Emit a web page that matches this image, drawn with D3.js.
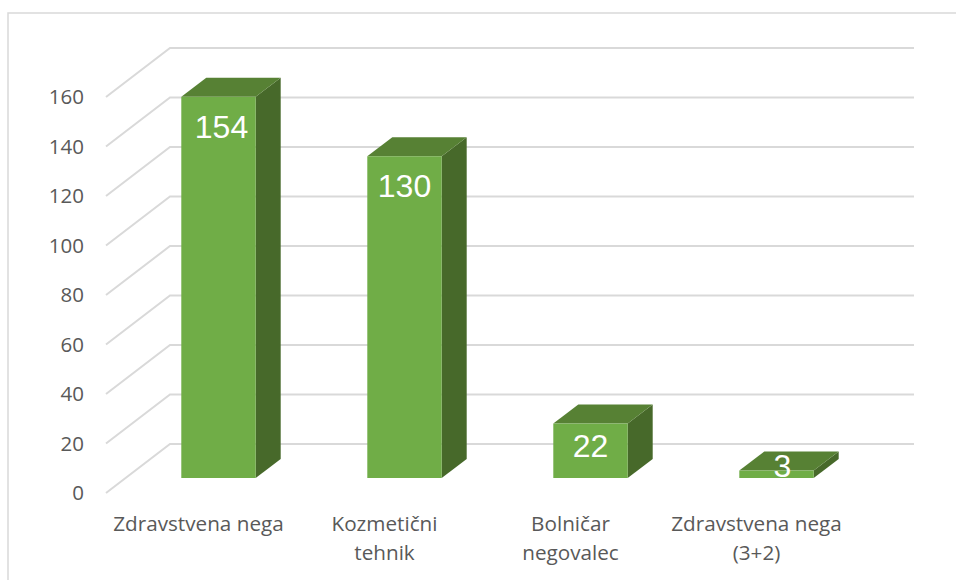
<!DOCTYPE html>
<html>
<head>
<meta charset="utf-8">
<script src="https://cdn.jsdelivr.net/npm/d3@7"></script>
<style>
  html, body { margin: 0; padding: 0; background: #fff; overflow: hidden; }
  text { font-family: "Open Sans", sans-serif; fill: #595959; }
  .value { font-family: "Liberation Sans", sans-serif; fill: #fff; font-size: 32px; text-anchor: middle; }
</style>
</head>
<body>
<div id="vis"></div>
<script>
const FRAME_WIDTH = 956;
const FRAME_HEIGHT = 580;

const CATEGORIES = ["Zdravstvena nega", "Kozmetični tehnik", "Bolničar negovalec", "Zdravstvena nega (3+2)"];
const CATEGORY_LINES = [["Zdravstvena nega"], ["Kozmetični", "tehnik"], ["Bolničar", "negovalec"], ["Zdravstvena nega", "(3+2)"]];
const VALUES = [154, 130, 22, 3];
const TICKS = [0, 20, 40, 60, 80, 100, 120, 140, 160];

// front plane of the 3d box, the back wall is shifted by WALL_DX / WALL_DY
const PLOT = {left: 106, right: 850, y0: 493, y160: 97};
const WALL_DX = 64;
const WALL_DY = -49;
// bars stand inside the box and have their own depth
const BAR_SHIFT_Y = -15;
const BAR_DX = 25;
const BAR_DY = -19;
// excel does not centre these labels exactly
const LABEL_NUDGE_X = [3, 0, 0, 6];

const Y_SCALE = d3.scaleLinear().domain([0, 160]).range([PLOT.y0, PLOT.y160]);
const X_SCALE = d3.scaleBand()
                  .domain(CATEGORIES)
                  .range([PLOT.left + 19.5, PLOT.right + 19.5])
                  .paddingInner(0.6)
                  .paddingOuter(0.3);

const svg = d3.select("#vis").append("svg")
              .attr("width", FRAME_WIDTH)
              .attr("height", FRAME_HEIGHT);

// chart frame, only left and top edges are in the picture
svg.append("path")
   .attr("d", "M8,580V13H956")
   .attr("fill", "none")
   .attr("stroke", "#d9d9d9")
   .attr("stroke-width", 1.5);

// gridlines: slanted side wall + back wall
svg.selectAll(".grid")
   .data(TICKS)
   .enter()
   .append("path")
     .attr("class", "grid")
     .attr("fill", "none")
     .attr("stroke", "#d9d9d9")
     .attr("stroke-width", 2)
     .attr("d", (d) => {
       const y = Y_SCALE(d);
       return `M${PLOT.left},${y}L${PLOT.left + WALL_DX},${y + WALL_DY}H${PLOT.right + WALL_DX}`;
     });

// tick labels
svg.selectAll(".tick-label")
   .data(TICKS)
   .enter()
   .append("text")
     .attr("class", "tick-label")
     .attr("x", 84)
     .attr("y", (d) => Y_SCALE(d))
     .attr("dy", "0.35em")
     .attr("text-anchor", "end")
     .attr("font-size", 20.5)
     .text((d) => d);

// one box per category
const bars = svg.selectAll(".bar")
   .data(VALUES)
   .enter()
   .append("g")
     .attr("class", "bar");

const barLeft = (i) => X_SCALE(CATEGORIES[i]);
const barRight = (i) => barLeft(i) + X_SCALE.bandwidth();
const barTop = (d) => Y_SCALE(d) + BAR_SHIFT_Y;
const barBottom = Y_SCALE(0) + BAR_SHIFT_Y;

// side
bars.append("path")
    .attr("fill", "#47692a")
    .attr("d", (d, i) => {
      const r = barRight(i);
      return `M${r},${barTop(d)}l${BAR_DX},${BAR_DY}V${barBottom + BAR_DY}L${r},${barBottom}Z`;
    });

// top
bars.append("path")
    .attr("fill", "#578134")
    .attr("d", (d, i) => {
      const l = barLeft(i);
      const r = barRight(i);
      return `M${l},${barTop(d)}l${BAR_DX},${BAR_DY}H${r + BAR_DX}L${r},${barTop(d)}Z`;
    });

// front
bars.append("rect")
    .attr("fill", "#70ad47")
    .attr("x", (d, i) => barLeft(i))
    .attr("y", (d) => barTop(d))
    .attr("width", X_SCALE.bandwidth())
    .attr("height", (d) => barBottom - barTop(d));

// value labels, short bars push the label up towards the top face
bars.append("text")
    .attr("class", "value")
    .attr("x", (d, i) => barLeft(i) + X_SCALE.bandwidth() / 2 + LABEL_NUDGE_X[i])
    .attr("y", (d) => barTop(d) + Math.min(41, 0.58 * (barBottom - barTop(d)) + 2))
    .text((d) => d);

// category labels sit 20px left of the bar centres
const cats = svg.selectAll(".cat")
   .data(CATEGORY_LINES)
   .enter()
   .append("text")
     .attr("class", "cat")
     .attr("text-anchor", "middle")
     .attr("font-size", 20.7)
     .attr("y", 531);

cats.selectAll("tspan")
    .data((d, i) => d.map((line) => ({line: line, i: i})))
    .enter()
    .append("tspan")
      .attr("x", (d) => barLeft(d.i) + X_SCALE.bandwidth() / 2 - 20)
      .attr("dy", (d, j) => j === 0 ? 0 : 29)
      .text((d) => d.line);
</script>
</body>
</html>
